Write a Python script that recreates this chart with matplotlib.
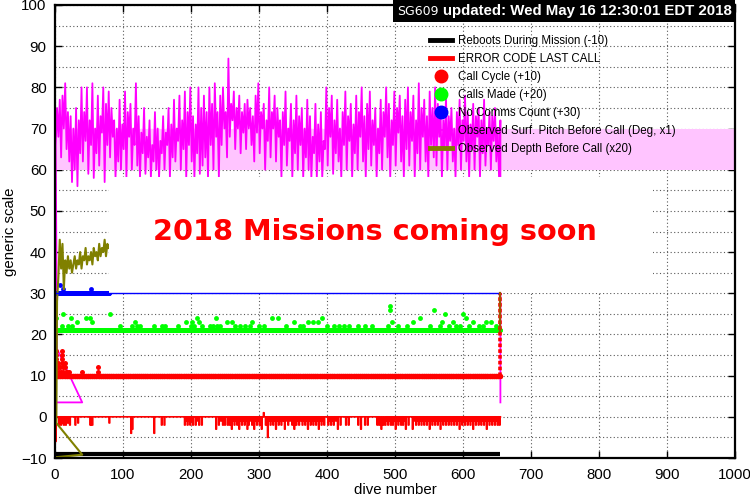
import numpy as np
import matplotlib
matplotlib.use("Agg")
import matplotlib.pyplot as plt
from matplotlib.patches import Rectangle
from matplotlib.lines import Line2D

# ---------------- data ----------------
last_dive = 655

# Observed surface pitch before call (x1), one value every 2 dives from dive 1
pitch_first_dive = 1
pitch_step = 2
pitch_vals = [
    66, 75, 68, 77, 63, 78, 70, 81, 65, 74, 62, 73, 57, 70, 60, 75, 56, 72, 64, 80,
    62, 74, 67, 80, 59, 72, 66, 81, 58, 70, 64, 78, 61, 73, 69, 80, 57, 76, 66, 79,
    63, 75, 68, 72, 58, 70, 62, 77, 60, 71, 65, 79, 58, 74, 68, 76, 60, 70, 66, 81,
    61, 73, 58, 69, 64, 75, 59, 68, 63, 72, 58, 66, 62, 74, 60, 70, 58, 67, 64, 73,
    60, 69, 66, 75, 58, 71, 63, 77, 62, 70, 67, 78, 60, 72, 65, 79, 58, 74, 66, 80,
    62, 73, 58, 71, 64, 80, 59, 75, 61, 78, 63, 74, 58, 80, 66, 76, 60, 81, 68, 74,
    58, 78, 66, 80, 70, 74, 63, 87, 68, 76, 72, 79, 65, 75, 70, 78, 64, 74, 69, 76,
    65, 77, 70, 75, 66, 73, 62, 78, 69, 81, 64, 74, 70, 76, 60, 72, 67, 80, 63, 74,
    70, 78, 62, 75, 68, 72, 58, 74, 66, 79, 61, 70, 67, 76, 58, 72, 64, 78, 60, 73,
    66, 75, 58, 70, 63, 77, 60, 73, 58, 68, 64, 76, 58, 71, 62, 74, 58, 67, 65, 80,
    61, 75, 68, 78, 59, 72, 64, 77, 62, 70, 58, 74, 66, 79, 60, 73, 67, 76, 58, 71,
    64, 78, 60, 74, 68, 80, 62, 73, 58, 76, 65, 79, 61, 72, 66, 75, 58, 70, 64, 77,
    60, 74, 68, 80, 63, 76, 58, 72, 66, 79, 61, 75, 69, 78, 62, 73, 58, 77, 65, 80,
    61, 74, 67, 78, 58, 72, 64, 81, 60, 75, 68, 77, 62, 73, 58, 79, 66, 75, 63, 80,
    61, 76, 68, 74, 58, 72, 65, 78, 60, 73, 67, 75, 62, 70, 58, 74, 66, 77, 60, 72,
    67, 78, 62, 74, 58, 71, 65, 76, 60, 73, 68, 75, 58, 72, 64, 77, 61, 70, 66, 74,
    60, 73, 67, 75, 62, 70, 58, 72,
]
pitch_lead_dives = [1, 40, 3]
pitch_lead_vals = [3.5, 3.5, 16.5]
pitch_tail_val = 3.5
pitch_band = [60, 70]

# Observed depth before call (x20), one value every 2 dives from dive 3
depth_first_dive = 3
depth_step = 2
depth_vals = [28, 34, 43, 36, 42, 31, 38, 35, 39, 36, 38, 35, 37, 39, 36, 38, 37, 40, 36, 39,
              38, 41, 37, 39, 38, 40, 37, 41, 39, 40, 38, 42, 39, 41, 40, 43, 39, 42, 41]
depth_lead_dives = [2, 40, 2]
depth_lead_vals = [-9.8, -9.2, -1.5]
depth_tail_range = [20.5, 30]

# Reboots during mission (-10)
reboot_level = -9

# Error code last call: baseline 0 with spikes (dive, value)
err_spike_dives = [1, 6, 9, 11, 13, 16, 19, 22, 30, 34, 52, 54, 55, 80, 112, 114, 146, 157, 161,
                   191, 193, 195, 197, 199, 201, 203, 207, 210, 212, 216, 237, 241, 244, 247, 250,
                   254, 257, 260, 262, 264, 266, 268, 271, 273, 275, 277, 279, 281, 283, 285,
                   288, 290, 293, 295, 297, 299, 301, 304, 307, 310, 313, 315, 317, 319, 321, 323,
                   325, 327, 329, 331, 333, 336, 338, 341, 343, 346, 349, 352, 355, 357, 359, 362,
                   364, 366, 368, 370, 372, 374, 376, 378, 380, 382, 384, 386, 388, 390, 392, 394,
                   396, 402, 404, 406, 408, 410, 413, 416, 420, 428, 432, 446, 450, 456, 460,
                   474, 477, 479, 480, 482, 483, 485, 486, 488, 490, 492, 494, 497, 499, 501, 503,
                   505, 507, 509, 512, 514, 516, 520, 526, 528, 531, 533, 535, 537, 539, 541, 543,
                   545, 547, 549, 551, 553, 555, 557, 559, 561, 563, 565, 567, 569, 571, 573, 575,
                   577, 579, 581, 583, 585, 587, 589, 591, 593, 595, 597, 599, 601, 603, 605, 607,
                   609, 611, 613, 615, 617, 619, 621, 623, 625, 627, 629, 631, 633, 635, 637, 639,
                   641, 643, 645, 647, 649, 651, 654]
err_spike_vals = [-6, -2, -2, -1.5, -2, -2, -1.5, -2, -2, -1.5, -2, -2, -2, -1.5, -4, -3, -4, -2, -2,
                  -2, -1, -2, -1, -2, -1, -2, -2, -1, -2, -2, -3, -2, -1, -2, -2,
                  -2, -2, -3, -1, -2, -1, -2, -3, -1, -2, -1, -2, -1, -3, -2,
                  -1, -2, -3, -1, -2, -1, -2, -3, 1, -2, -5, -1, -2, -1, -2, -1,
                  -3, -1, -2, -1, -2, -1, -3, -1, -2, -1, -2, -3, -2, -1, -2, -1,
                  -2, -1, -2, -1, -3, -1, -2, -1, -2, -1, -2, -1, -3, -1, -2, -1,
                  -2, -2, -1, -2, -1, -2, -1, -3, -2, -2, -2, -2, -3, -2, -2,
                  -2, -2, -1, -3, -1, -2, -1, -2, -1, -2, -1, -2, -2, -1, -3, -1,
                  -2, -1, -2, -2, -1, -3, -2, -3, -1, -2, -1, -2, -1, -2, -1, -2,
                  -1, -2, -1, -3, -1, -2, -1, -2, -1, -2, -1, -3, -1, -2, -1, -2,
                  -1, -2, -1, -2, -1, -2, -1, -2, -1, -3, -1, -2, -1, -2, -1, -2,
                  -1, -2, -1, -3, -1, -2, -1, -2, -1, -2, -1, -2, -1, -3, -1, -2,
                  -1, -2, -1, -2, -1, -2, -2]

# Call cycle (+10): base level, plus extra points
cycle_level = 10
cycle_extra_dives = [1, 1, 1, 1, 1, 1, 3, 3, 5, 5, 6, 8, 9, 10, 10, 11, 11, 12, 12, 14, 15, 16, 17, 20, 39, 63, 63]
cycle_extra_vals = [16, 15, 14, 13, 12, 11, 12, 11, 13, 12, 11, 12, 11, 16, 15, 14, 13, 12, 11, 13, 12, 11, 11, 11, 11, 12, 11]
cycle_final_range = [10, 30]

# Calls made (+20): base level, plus extra points
calls_level = 21
calls_extra_dives = [2, 12, 11, 19, 25, 24, 32, 46, 52, 54, 81, 96, 113, 118, 121, 125, 146, 157, 162,
                     181, 193, 201, 200, 205, 209, 212, 216, 228, 233, 237, 238, 243, 253, 261, 265,
                     272, 280, 287, 289, 300, 308, 319, 328, 340, 351, 360, 365, 372, 380, 387, 392,
                     400, 410, 418, 425, 432, 446, 456, 466, 492, 493, 496, 490, 505, 517, 527, 537,
                     551, 558, 566, 569, 574, 579, 585, 590, 596, 600, 604, 609, 615, 623, 630, 634,
                     641, 648]
calls_extra_vals = [24, 25, 22, 22, 22, 24, 23, 24, 24, 23, 25, 22, 22, 23, 22, 22, 22, 22, 22,
                    22, 23, 23, 22, 22, 24, 23, 22, 22, 22, 24, 22, 22, 23, 23, 22,
                    22, 22, 22, 23, 22, 22, 24, 24, 22, 23, 22, 22, 23, 23, 23, 24,
                    22, 22, 22, 22, 22, 22, 22, 22, 27, 26, 23, 22, 22, 22, 23, 24,
                    22, 26, 22, 23, 25, 22, 23, 22, 22, 25, 24, 22, 23, 22, 22, 23,
                    23, 22]

# No comms count (+30)
nocomms_level = 30
nocomms_last_dive = 80
nocomms_extra_dives = [7, 12, 53]
nocomms_extra_vals = [32, 31, 31]

# white notice box (data coordinates) and notice text
notice_box_x = [80, 879]
notice_box_y = [30, 58.2]
notice_text = "2018 Missions coming soon"

legend_labels = ["Reboots During Mission (-10)", "ERROR CODE LAST CALL", "Call Cycle (+10)",
                 "Calls Made (+20)", "No Comms Count (+30)",
                 "Observed Surf. Pitch Before Call (Deg, x1)", "Observed Depth Before Call (x20)"]

# ---------------- figure ----------------
fig = plt.figure(figsize=(7.5, 5), dpi=100)
ax = fig.add_axes([55 / 750, 42 / 500, 680 / 750, 453 / 500])
ax.set_xlim(0, 1000)
ax.set_ylim(-10, 100)

ax.set_axisbelow(True)
ax.yaxis.set_minor_locator(matplotlib.ticker.MultipleLocator(5))
ax.xaxis.set_major_locator(matplotlib.ticker.MultipleLocator(100))
ax.yaxis.set_major_locator(matplotlib.ticker.MultipleLocator(10))
gkw = dict(color="0.35", linestyle=(0, (1, 2.2)), linewidth=0.8)
ax.grid(True, which="major", axis="both", **gkw)
ax.grid(True, which="minor", axis="y", **gkw)

ax.axhspan(pitch_band[0], pitch_band[1], color="#ffc4ff", lw=0, zorder=1)

all_dives = np.arange(1, last_dive + 1)

# reboots
ax.plot([0, last_dive], [reboot_level, reboot_level], color="black", lw=3.0, zorder=3,
        solid_capstyle="butt")

# error code
err = np.zeros(last_dive + 1)
err[np.array(err_spike_dives)] = err_spike_vals
ax.plot(np.arange(last_dive + 1), err, color="red", lw=1.2, zorder=3, drawstyle="steps-mid")

# call cycle
ax.plot(all_dives, np.full(all_dives.size, cycle_level), "o", color="red", ms=3.8, mew=0, zorder=3)
ax.plot(cycle_extra_dives, cycle_extra_vals, "o", color="red", ms=3.6, mew=0, zorder=3)
ax.plot([last_dive, last_dive], cycle_final_range, color="red", lw=2.6,
        linestyle=(0, (1, 0.6)), zorder=6)

# calls made
ax.plot(all_dives, np.full(all_dives.size, calls_level), "o", color="#00ff00", ms=3.5, mew=0, zorder=3)
ax.plot(calls_extra_dives, calls_extra_vals, "o", color="#00ff00", ms=3.5, mew=0, zorder=3)

# no comms
nc_d = np.arange(1, nocomms_last_dive + 1)
ax.plot(nc_d, np.full(nc_d.size, nocomms_level), "o", color="blue", ms=3.5, mew=0, zorder=3)
ax.plot(nocomms_extra_dives, nocomms_extra_vals, "o", color="blue", ms=3.5, mew=0, zorder=3)
ax.plot([0, last_dive], [nocomms_level, nocomms_level], color="blue", lw=1.0, zorder=6)

# pitch
p_d = pitch_first_dive + pitch_step * np.arange(len(pitch_vals))
p_x = np.concatenate([pitch_lead_dives, p_d, [last_dive]])
p_y = np.concatenate([pitch_lead_vals, pitch_vals, [pitch_tail_val]])
ax.plot(p_x, p_y, color="#ff00ff", lw=1.3, zorder=2)

# depth
d_d = depth_first_dive + depth_step * np.arange(len(depth_vals))
d_x = np.concatenate([depth_lead_dives, d_d])
d_y = np.concatenate([depth_lead_vals, depth_vals])
ax.plot(d_x, d_y, color="#808000", lw=1.5, zorder=3)
ax.plot([last_dive, last_dive], depth_tail_range, color="#a05000", lw=1.6, zorder=6)

# white notice box
ax.add_patch(Rectangle((notice_box_x[0], notice_box_y[0]), notice_box_x[1] - notice_box_x[0],
                       notice_box_y[1] - notice_box_y[0], facecolor="white", edgecolor="none",
                       zorder=5))
ax.text(470, 43, notice_text, color="red", fontsize=20.7, fontweight="bold",
        family="DejaVu Sans", ha="center", va="baseline", zorder=7)

# axes styling
fs = 10.8
for s in ax.spines.values():
    s.set_linewidth(1.6)
    s.set_zorder(8)
ax.tick_params(which="major", direction="in", length=5, width=1, top=True, right=True,
               labelsize=fs)
ax.tick_params(axis="x", pad=7)
ax.tick_params(axis="y", pad=6)
ax.tick_params(which="minor", length=0)
for lab in ax.get_xticklabels() + ax.get_yticklabels():
    lab.set_family("Liberation Sans")
ax.set_xlabel("dive number", family="Liberation Sans", fontsize=fs, labelpad=1)
ax.set_ylabel("generic scale", family="Liberation Sans", fontsize=fs, labelpad=3)

# legend
handles = [
    Line2D([], [], color="black", lw=3.5),
    Line2D([], [], color="red", lw=3.5),
    Line2D([], [], color="red", marker="o", ls="none", ms=9),
    Line2D([], [], color="#00ff00", marker="o", ls="none", ms=9),
    Line2D([], [], color="blue", marker="o", ls="none", ms=9),
    Line2D([], [], color="#ff00ff", lw=1.2),
    Line2D([], [], color="#808000", lw=3.5),
]
leg = ax.legend(handles, legend_labels, loc="upper left", bbox_to_anchor=(0.551, 0.934),
                frameon=False, borderpad=0, borderaxespad=0, handlelength=1.9,
                handletextpad=0.6, labelspacing=0.52, prop={"family": "Liberation Sans", "size": 8.3})
leg.set_zorder(9)

# title box
fig.patches.append(Rectangle((393 / 750, 1 - 22 / 500), 342 / 750, 22 / 500, facecolor="black",
                             edgecolor="none", transform=fig.transFigure, zorder=10))
fig.text(397 / 750, 1 - 11.5 / 500, "SG609", color="white", fontsize=9, family="DejaVu Sans",
         va="center", ha="left", zorder=11)
fig.text(443 / 750, 1 - 11.5 / 500, "updated: Wed May 16 12:30:01 EDT 2018", color="white",
         fontsize=10.8, fontweight="bold", family="Liberation Sans", va="center", ha="left", zorder=11)

fig.savefig("out.png", dpi=100)
